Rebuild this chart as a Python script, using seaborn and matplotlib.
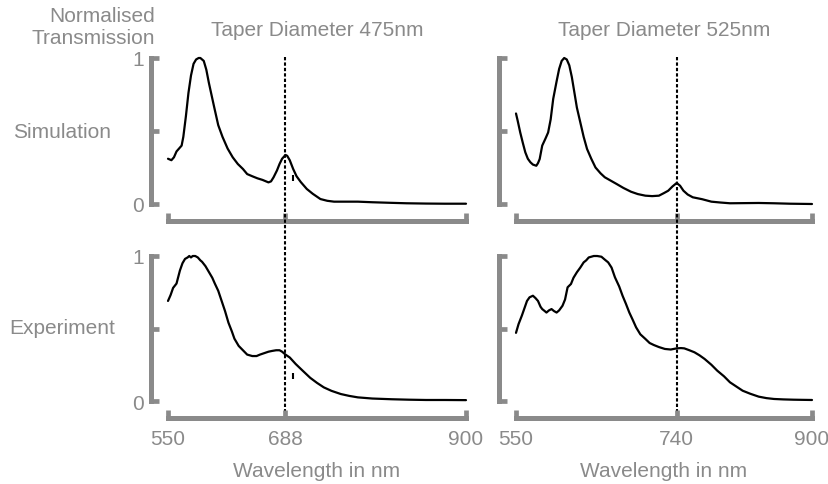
import matplotlib
matplotlib.use("Agg")
import matplotlib.pyplot as plt
import matplotlib.transforms as mtransforms
import seaborn as sns

# --- data (wavelength nm, normalised transmission) ---
sim_475_x = [550, 554, 557, 560, 563, 566, 568, 571, 574, 577, 580, 583, 586, 588, 590, 592,
             595, 598, 601, 604, 609, 614, 620, 626, 632, 638, 643, 649, 655, 661, 668,
             671, 674, 678, 681, 684, 688, 690, 693, 697, 701, 706, 713, 720, 729, 737,
             745, 760, 773, 790, 812, 830, 853, 875, 900]
sim_475_y = [0.31, 0.30, 0.32, 0.36, 0.38, 0.40, 0.46, 0.60, 0.76, 0.88, 0.96, 0.99, 1.00, 1.00, 0.99, 0.98,
             0.92, 0.83, 0.75, 0.67, 0.54, 0.46, 0.38, 0.32, 0.274, 0.24, 0.205, 0.19, 0.176, 0.165, 0.148,
             0.155, 0.183, 0.23, 0.274, 0.31, 0.336, 0.33, 0.30, 0.24, 0.19, 0.15, 0.103, 0.07, 0.034, 0.022,
             0.016, 0.016, 0.016, 0.012, 0.008, 0.005, 0.003, 0.002, 0.002]

exp_475_x = [550, 553, 556, 560, 564, 567, 570, 573, 575, 577, 579, 582, 585, 588, 590, 594, 598,
             602, 605, 609, 613, 617, 621, 625, 628, 633, 638, 643, 649, 654, 658, 663, 668, 672,
             677, 681, 684, 688, 693, 700, 708, 717, 725, 733, 742, 753, 763, 773, 790, 813, 833,
             853, 875, 900]
exp_475_y = [0.69, 0.73, 0.78, 0.81, 0.90, 0.95, 0.98, 0.99, 1.00, 0.99, 1.00, 1.00, 0.99, 0.97, 0.96,
             0.93, 0.89, 0.85, 0.81, 0.76, 0.69, 0.62, 0.54, 0.48, 0.43, 0.38, 0.35, 0.32, 0.31, 0.31,
             0.32, 0.33, 0.34, 0.345, 0.35, 0.35, 0.34, 0.32, 0.30, 0.255, 0.21, 0.16, 0.125, 0.094,
             0.07, 0.048, 0.035, 0.025, 0.017, 0.012, 0.009, 0.007, 0.007, 0.006]

sim_525_x = [550, 552, 555, 558, 561, 564, 567, 570, 574, 576, 578, 581, 585, 588, 591, 594, 598,
             601, 604, 607, 610, 613, 616, 619, 622, 626, 630, 634, 639, 644, 650, 655, 662, 669,
             677, 686, 694, 703, 711, 719, 725, 730, 735, 740, 744, 748, 753, 759, 770, 781, 792,
             803, 820, 837, 855, 874, 900]
sim_525_y = [0.62, 0.57, 0.49, 0.42, 0.354, 0.31, 0.286, 0.27, 0.262, 0.28, 0.308, 0.40, 0.45, 0.49,
             0.58, 0.72, 0.84, 0.925, 0.98, 1.00, 0.99, 0.95, 0.87, 0.765, 0.66, 0.56, 0.46, 0.377,
             0.31, 0.25, 0.21, 0.183, 0.16, 0.137, 0.11, 0.084, 0.068, 0.057, 0.054, 0.057, 0.075,
             0.091, 0.12, 0.144, 0.125, 0.091, 0.065, 0.046, 0.033, 0.016, 0.01, 0.005, 0.006,
             0.007, 0.005, 0.002, 0.0]

exp_525_x = [550, 553, 557, 560, 563, 566, 570, 573, 576, 579, 581, 584, 586, 589, 592, 595, 598,
             601, 605, 608, 611, 615, 618, 622, 626, 630, 633, 636, 639, 642, 646, 651, 655, 659,
             663, 667, 672, 676, 680, 684, 688, 692, 697, 703, 708, 713, 719, 726, 733, 740, 745,
             749, 755, 761, 767, 773, 781, 788, 796, 803, 811, 818, 827, 837, 846, 855, 866, 878,
             888, 900]
exp_525_y = [0.47, 0.53, 0.59, 0.64, 0.69, 0.715, 0.726, 0.71, 0.69, 0.65, 0.634, 0.62, 0.61, 0.625,
             0.634, 0.62, 0.61, 0.625, 0.657, 0.70, 0.784, 0.807, 0.85, 0.888, 0.92, 0.956, 0.97,
             0.99, 0.995, 1.00, 1.00, 0.995, 0.975, 0.956, 0.92, 0.853, 0.79, 0.726, 0.67, 0.61,
             0.56, 0.508, 0.46, 0.428, 0.40, 0.386, 0.372, 0.359, 0.355, 0.363, 0.365, 0.363, 0.35,
             0.336, 0.315, 0.29, 0.25, 0.209, 0.17, 0.129, 0.098, 0.071, 0.05, 0.03, 0.02, 0.014,
             0.011, 0.009, 0.008, 0.007]

# resonance markers (dotted lines) and tick positions
res_475 = 688
res_525 = 740
xticks_475 = [550, 688, 900]
xticks_525 = [550, 740, 900]
yticks = [0, 0.5, 1]
ytick_labels = ["0", "", "1"]

# stray marks present in the original figure
stray_x = [697]
stray_y = [0.175]

col_titles = ["Taper Diameter 475nm", "Taper Diameter 525nm"]
row_titles = ["Simulation", "Experiment"]

GREY = "#8a8a8a"
W, H = 829, 485

sns.set_theme(style="white")
plt.rcParams["font.family"] = ["Liberation Sans", "DejaVu Sans"]
plt.rcParams["font.size"] = 15


def px_rect(l, t, r, b):
    return [l / W, 1 - b / H, (r - l) / W, (b - t) / H]


fig = plt.figure(figsize=(W / 100, H / 100), dpi=100)
ax_tl = fig.add_axes(px_rect(168, 59, 466, 205))
ax_bl = fig.add_axes(px_rect(168, 257, 466, 402))
ax_tr = fig.add_axes(px_rect(516, 59, 812, 205))
ax_br = fig.add_axes(px_rect(516, 257, 812, 402))

panels = [
    (ax_tl, sim_475_x, sim_475_y, xticks_475),
    (ax_bl, exp_475_x, exp_475_y, xticks_475),
    (ax_tr, sim_525_x, sim_525_y, xticks_525),
    (ax_br, exp_525_x, exp_525_y, xticks_525),
]

offset = 17 * 72 / 100  # spines pushed out by 17 px
for ax, xs, ys, xt in panels:
    sns.lineplot(x=xs, y=ys, ax=ax, color="black", linewidth=1.6, clip_on=False)
    ax.set_xlim(550, 900)
    ax.set_ylim(0, 1)
    ax.set_facecolor("none")
    for s in ["top", "right"]:
        ax.spines[s].set_visible(False)
    for s in ["left", "bottom"]:
        ax.spines[s].set_position(("outward", offset))
        ax.spines[s].set_color(GREY)
        ax.spines[s].set_linewidth(3.6)
    ax.spines["left"].set_bounds(0, 1)
    ax.spines["bottom"].set_bounds(550, 900)
    ax.set_xticks(xt)
    ax.set_yticks(yticks, labels=ytick_labels)
    ax.tick_params(bottom=True, left=True, direction="in", length=6, width=3.4,
                   color=GREY, labelcolor=GREY, labelsize=15)
    ax.tick_params(axis="y", pad=5)
    ax.tick_params(axis="x", pad=8)
    ax.set_xlabel("")
    ax.set_ylabel("")

# top row: no x tick labels; right column: no y tick labels
ax_tl.tick_params(labelbottom=False)
ax_tr.tick_params(labelbottom=False)
ax_tr.tick_params(labelleft=False)
ax_br.tick_params(labelleft=False)

for ax in [ax_bl, ax_br]:
    ax.set_xlabel("Wavelength in nm", color=GREY, fontsize=15, labelpad=9)

ax_tl.set_title(col_titles[0], color=GREY, fontsize=15, pad=16.5)
ax_tr.set_title(col_titles[1], color=GREY, fontsize=15, pad=16.5)

# dotted resonance lines spanning both rows
for ax, xr in [(ax_tl, res_475), (ax_tr, res_525)]:
    trans = mtransforms.blended_transform_factory(ax.transData, fig.transFigure)
    ax.plot([xr, xr], [1 - 58 / H, 1 - 419 / H], transform=trans, color="black",
            linewidth=1.5, linestyle=(0, (1.6, 1.0)), clip_on=False, zorder=5)

for ax in [ax_tl, ax_bl]:
    ax.plot(stray_x, stray_y, marker="|", markersize=4, markeredgewidth=1.5,
            color="black", linestyle="none", clip_on=False)

# row and axis captions
fig.text(155 / W, 1 - 22 / H, "Normalised", ha="right", va="baseline", color=GREY, fontsize=15)
fig.text(155 / W, 1 - 44 / H, "Transmission", ha="right", va="baseline", color=GREY, fontsize=15)
fig.text(62 / W, 1 - 133 / H, row_titles[0], ha="center", va="center", color=GREY, fontsize=15)
fig.text(62 / W, 1 - 328 / H, row_titles[1], ha="center", va="center", color=GREY, fontsize=15)

fig.savefig("out.png", dpi=100)
